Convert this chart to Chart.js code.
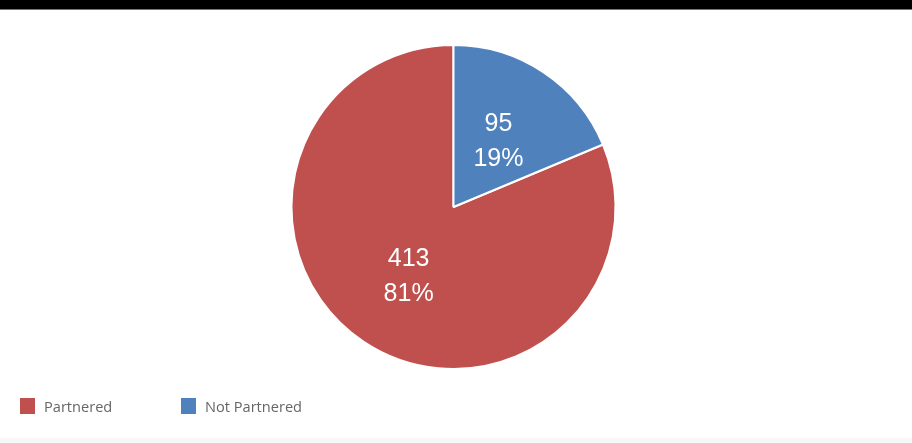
<!DOCTYPE html>
<html>
<head>
<meta charset="utf-8">
<script src="https://cdn.jsdelivr.net/npm/chart.js@4.4.0/dist/chart.umd.min.js"></script>
<style>
    html, body { margin: 0; padding: 0; background: #fff; }
    body { width: 912px; height: 443px; position: relative; overflow: hidden; }
    .topbar { position: absolute; left: 0; top: 0; width: 912px; height: 9px; background: #000; border-bottom: 1px solid #777; }
    .footer { position: absolute; left: 0; top: 438px; width: 912px; height: 5px; background: #f8f8f8; }
    #chartWrap { position: absolute; left: 0; top: 0; width: 912px; height: 443px; }
    #legend { position: absolute; left: 20px; top: 396px; font-family: "Open Sans", sans-serif; font-size: 14.6px; color: #666; }
    #legend .item { position: absolute; white-space: nowrap; }
    #legend .box { position: absolute; top: 2px; width: 15px; height: 16px; }
    #legend .text { position: absolute; left: 24px; top: 0; }
</style>
</head>
<body>
<div class="topbar"></div>
<div id="chartWrap"><canvas id="chartPartners"></canvas></div>
<div id="legend"></div>
<div class="footer"></div>
<script>
// Partner status breakdown
const categories = ['Partnered', 'Not Partnered'];
const counts = [413, 95];
const colors = ['#C0504D', '#4F81BD'];

const total = counts.reduce((a, b) => a + b, 0);

// Rotate so the smaller slice starts at 12 o'clock
const startAngle = counts[1] / total * 360;

// Draws the count and percentage in the middle of each slice
const sliceLabels = {
    id: 'sliceLabels',
    afterDatasetsDraw(chart) {
        const ctx = chart.ctx;
        const meta = chart.getDatasetMeta(0);
        ctx.save();
        ctx.fillStyle = '#fff';
        ctx.font = '25px "Liberation Sans", Arial, sans-serif';
        ctx.textAlign = 'center';
        ctx.textBaseline = 'middle';
        meta.data.forEach((arc, i) => {
            const p = arc.getProps(['x', 'y', 'startAngle', 'endAngle', 'outerRadius'], true);
            const mid = (p.startAngle + p.endAngle) / 2;
            const r = p.outerRadius / 2;
            const x = p.x + Math.cos(mid) * r;
            const y = p.y + Math.sin(mid) * r;
            const pct = Math.round(counts[i] / total * 100) + '%';
            ctx.fillText(String(counts[i]), x, y - 15);
            ctx.fillText(pct, x, y + 20);
        });
        ctx.restore();
    }
};

new Chart(document.getElementById('chartPartners').getContext('2d'), {
    type: 'pie',
    data: {
        labels: categories,
        datasets: [{
            data: counts,
            backgroundColor: colors,
            borderColor: '#fff',
            borderWidth: 2
        }]
    },
    options: {
        responsive: true,
        maintainAspectRatio: false,
        animation: false,
        rotation: startAngle,
        layout: { padding: { top: 44, bottom: 73, left: 0, right: 5 } },
        plugins: {
            legend: { display: false },
            tooltip: { enabled: false }
        }
    },
    plugins: [sliceLabels]
});

// Legend row under the pie
const legend = document.getElementById('legend');
const legendX = [0, 161];
categories.forEach((name, i) => {
    const item = document.createElement('div');
    item.className = 'item';
    item.style.left = legendX[i] + 'px';
    item.innerHTML = '<span class="box" style="background:' + colors[i] + '"></span><span class="text">' + name + '</span>';
    legend.appendChild(item);
});
</script>
</body>
</html>
